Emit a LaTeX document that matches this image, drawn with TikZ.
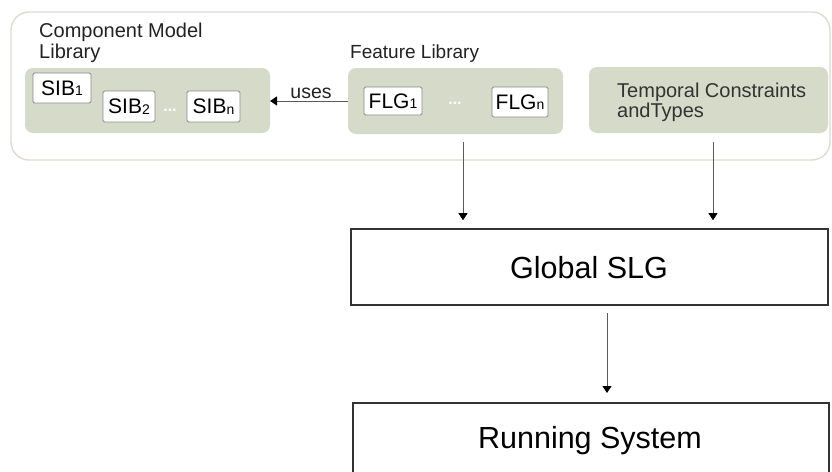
\documentclass[tikz,border=0pt]{standalone}
\usepackage{fontspec}
\setmainfont{Liberation Sans}
\usetikzlibrary{arrows.meta,positioning}
\definecolor{libgreen}{HTML}{D6DAC8}
\definecolor{framecol}{HTML}{DEDBCF}
\definecolor{itembord}{HTML}{8A8A8A}
\definecolor{txtcol}{HTML}{222222}
\definecolor{arrcol}{HTML}{5A5A5A}
\newcommand{\sibtxt}[2]{{\fontsize{21}{21}\selectfont #1}{\fontsize{14}{14}\selectfont\raisebox{-0.5pt}{#2}}}
\begin{document}
\begin{tikzpicture}[x=1pt,y=-1pt,
  frame/.style={draw=framecol,line width=1.4pt,rounded corners=18pt},
  libbox/.style={fill=libgreen,draw=none,rounded corners=8pt},
  item/.style={draw=itembord,fill=white,line width=0.8pt,rounded corners=1.5pt,inner sep=0pt,text=black},
  ttl/.style={anchor=base west,inner sep=0pt,text=txtcol},
  bigbox/.style={draw=black!80,line width=1.6pt,fill=white},
  arr/.style={draw=arrcol,line width=0.8pt,-{Triangle[length=7pt,width=9pt,fill=black,color=black]}},
  dotsn/.style={inner sep=0pt,text=white,font=\bfseries\fontsize{16}{16}\selectfont}
]
\useasboundingbox (0,0) rectangle (832,471);
\fill[white] (0,0) rectangle (832,471);

% outer frame
\draw[frame] (11,12) rectangle (830,160);

% library areas
\filldraw[libbox] (25,68) rectangle (270,133);
\filldraw[libbox] (348,68) rectangle (563,134);
\filldraw[libbox] (589,67) rectangle (828,133);
\coordinate (comp) at (270,101);
\coordinate (feat) at (348,101);

% titles
\node[ttl,font=\fontsize{20}{20}\selectfont] (t1) at (39,37) {Component Model};
\node[ttl,font=\fontsize{20}{20}\selectfont] (t2) at (39,58) {Library};
\node[ttl,font=\fontsize{19}{19}\selectfont] (t3) at (350,58) {Feature Library};
\node[ttl,font=\fontsize{20}{20}\selectfont,text=black!80] (t4) at (617,97) {Temporal Constraints};
\node[ttl,font=\fontsize{20}{20}\selectfont,text=black!80] (t5) at (617,117) {andTypes};

% items
\node[item,minimum width=58pt,minimum height=30pt] (sib1) at (62,88) {\sibtxt{SIB}{1}};
\node[item,minimum width=52pt,minimum height=31pt] (sib2) at (129,106.5) {\sibtxt{SIB}{2}};
\node[item,minimum width=53pt,minimum height=31pt] (sibn) at (213.5,106.5) {\sibtxt{SIB}{n}};
\node[dotsn,anchor=base] (d1) at (170,111) {...};
\node[item,minimum width=58pt,minimum height=28pt] (flg1) at (393,101) {\sibtxt{FLG}{1}};
\node[item,minimum width=56pt,minimum height=30pt] (flgn) at (520,102) {\sibtxt{FLG}{n}};
\node[dotsn,anchor=base] (d2) at (455,104.5) {...};

% uses arrow
\draw[arr] (feat) -- (comp);
\node[anchor=base,inner sep=0pt,text=txtcol,font=\fontsize{19.5}{19.5}\selectfont] (uses) at (311,98) {uses};

% big boxes
\node[bigbox,minimum width=477pt,minimum height=76pt,inner sep=0pt] (gslg) at (589.5,267) {};
\node[anchor=base,inner sep=0pt,font=\fontsize{30.5}{30.5}\selectfont] (gslgt) at (589,278) {Global SLG};
\node[bigbox,minimum width=476pt,minimum height=100pt,inner sep=0pt,anchor=north west] (run) at (352,402) {};
\node[anchor=base,inner sep=0pt,font=\fontsize{30.5}{30.5}\selectfont] (runt) at (590,448) {Running System};

% vertical arrows
\coordinate (fa) at (463,142);
\coordinate (ta) at (713,142);
\coordinate (ga) at (607,313);
\draw[arr,shorten >=8pt] (fa) -- (fa |- gslg.north);
\draw[arr,shorten >=8pt] (ta) -- (ta |- gslg.north);
\draw[arr,shorten >=9pt] (ga) -- (ga |- run.north);
\end{tikzpicture}
\end{document}
